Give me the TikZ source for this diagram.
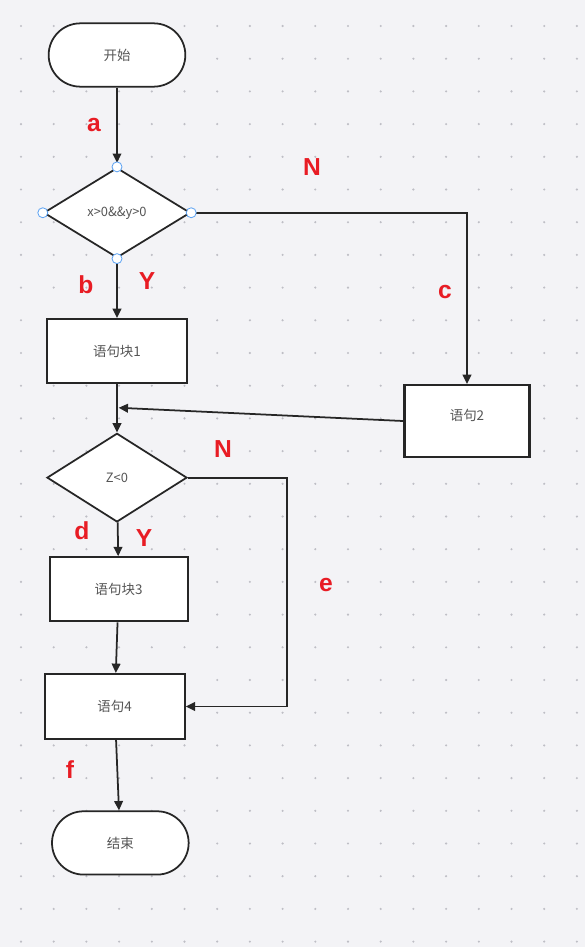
\documentclass[tikz,border=0pt]{standalone}
\usepackage{fontspec}
\usetikzlibrary{shapes.geometric,arrows.meta,positioning,calc}
\newfontfamily\cjkfont{Noto Sans CJK SC}
\newfontfamily\labfont{Liberation Sans}
\definecolor{bggray}{RGB}{243,243,246}
\definecolor{dotgray}{RGB}{190,190,197}
\definecolor{linegray}{RGB}{38,38,38}
\definecolor{textgray}{RGB}{85,85,85}
\definecolor{labred}{RGB}{232,28,36}
\definecolor{handleblue}{RGB}{92,162,242}

\begin{document}
\begin{tikzpicture}[node distance=1cm]
\tikzstyle{terminal} = [rectangle, rounded corners=0.95cm, minimum width=4.1cm, minimum height=1.9cm, draw=linegray, line width=1.5pt, fill=white, text=textgray, font=\cjkfont\fontsize{11.5}{13}\selectfont]
\tikzstyle{block} = [rectangle, minimum width=4.2cm, minimum height=1.92cm, draw=linegray, line width=1.8pt, fill=white, text=textgray, font=\cjkfont\fontsize{11.5}{13}\selectfont]
\tikzstyle{decision} = [diamond, aspect=1.65, inner sep=0pt, minimum width=4.4cm, minimum height=2.7cm, draw=linegray, line width=1.5pt, fill=white, text=textgray, font=\cjkfont\fontsize{11}{13}\selectfont]
\tikzstyle{arrow} = [line width=1.5pt, draw=linegray, -{Triangle[length=2.8mm,width=2.6mm]}]
\tikzstyle{lab} = [text=labred, font=\labfont\bfseries\fontsize{21}{21}\selectfont]
\tikzstyle{handle} = [circle, inner sep=0pt, minimum size=0.3cm, draw=handleblue, line width=0.7pt, fill=white]

% canvas and dot grid
\useasboundingbox (0,0) rectangle (17.55,-28.41);
\fill[bggray] (0,0) rectangle (17.55,-28.41);
\foreach \i in {0,...,17}
  \foreach \j in {0,...,28}
    \fill[dotgray] (0.63+0.981*\i,-0.78-0.981*\j) circle (0.035cm);

\node (start) [terminal] at (3.51,-1.65) {开始};
\node (dia1) [decision, below=2.38cm of start] {x>0\&\&y>0};
\node (box1) [block, below=1.78cm of dia1] {语句块1};
\node (dia2) [decision, below=1.45cm of box1, minimum width=4.2cm, minimum height=2.66cm] {Z<0};
\node (box2) [block, right of=box1, xshift=9.5cm, yshift=-2.1cm, minimum width=3.75cm, minimum height=2.16cm] {\raisebox{0.36cm}{语句2}};
\node (box3) [block, below=1.0cm of dia2, xshift=0.05cm, minimum width=4.14cm] {语句块3};
\node (box4) [block, below=1.52cm of box3, xshift=-0.12cm, minimum width=4.2cm, minimum height=1.95cm] {语句4};
\node (end) [terminal, below=2.11cm of box4, xshift=0.17cm] {结束};

\coordinate (join) at ($(box1.south)!0.49!(dia2.north)+(0.05,0)$);

\draw [arrow, shorten >=0.12cm] (start) -- (dia1);
\draw [arrow] (dia1) -- (box1);
\draw [arrow] (dia1.east) -- (box2.north |- dia1.east) -- (box2.north);
\draw [arrow] (box1) -- (dia2);
\draw [arrow] (box2.west) -- (join);
\draw [arrow] (dia2) -- (box3);
\draw [arrow] (box3) -- (box4);
\draw [arrow] (dia2.east) -- ++(2.97,0) |- (box4.east);
\draw [arrow] (box4) -- (end);

% selection handles on the first decision
\node (hn) [handle] at (dia1.north) {};
\node (hw) [handle] at (dia1.west) {};
\node (he) [handle] at (dia1.east) {};
\node (hs) [handle] at (dia1.south) {};

\node (la) [lab] at (2.82,-3.75) {a};
\node (ln1) [lab] at (9.36,-5.01) {N};
\node (lb) [lab] at (2.58,-8.55) {b};
\node (ly1) [lab] at (4.41,-8.43) {Y};
\node (lc) [lab] at (13.35,-8.76) {c};
\node (ln2) [lab] at (6.69,-13.47) {N};
\node (ld) [lab] at (2.46,-15.93) {d};
\node (ly2) [lab] at (4.32,-16.14) {Y};
\node (le) [lab] at (9.78,-17.55) {e};
\node (lf) [lab] at (2.1,-23.1) {f};
\end{tikzpicture}
\end{document}
